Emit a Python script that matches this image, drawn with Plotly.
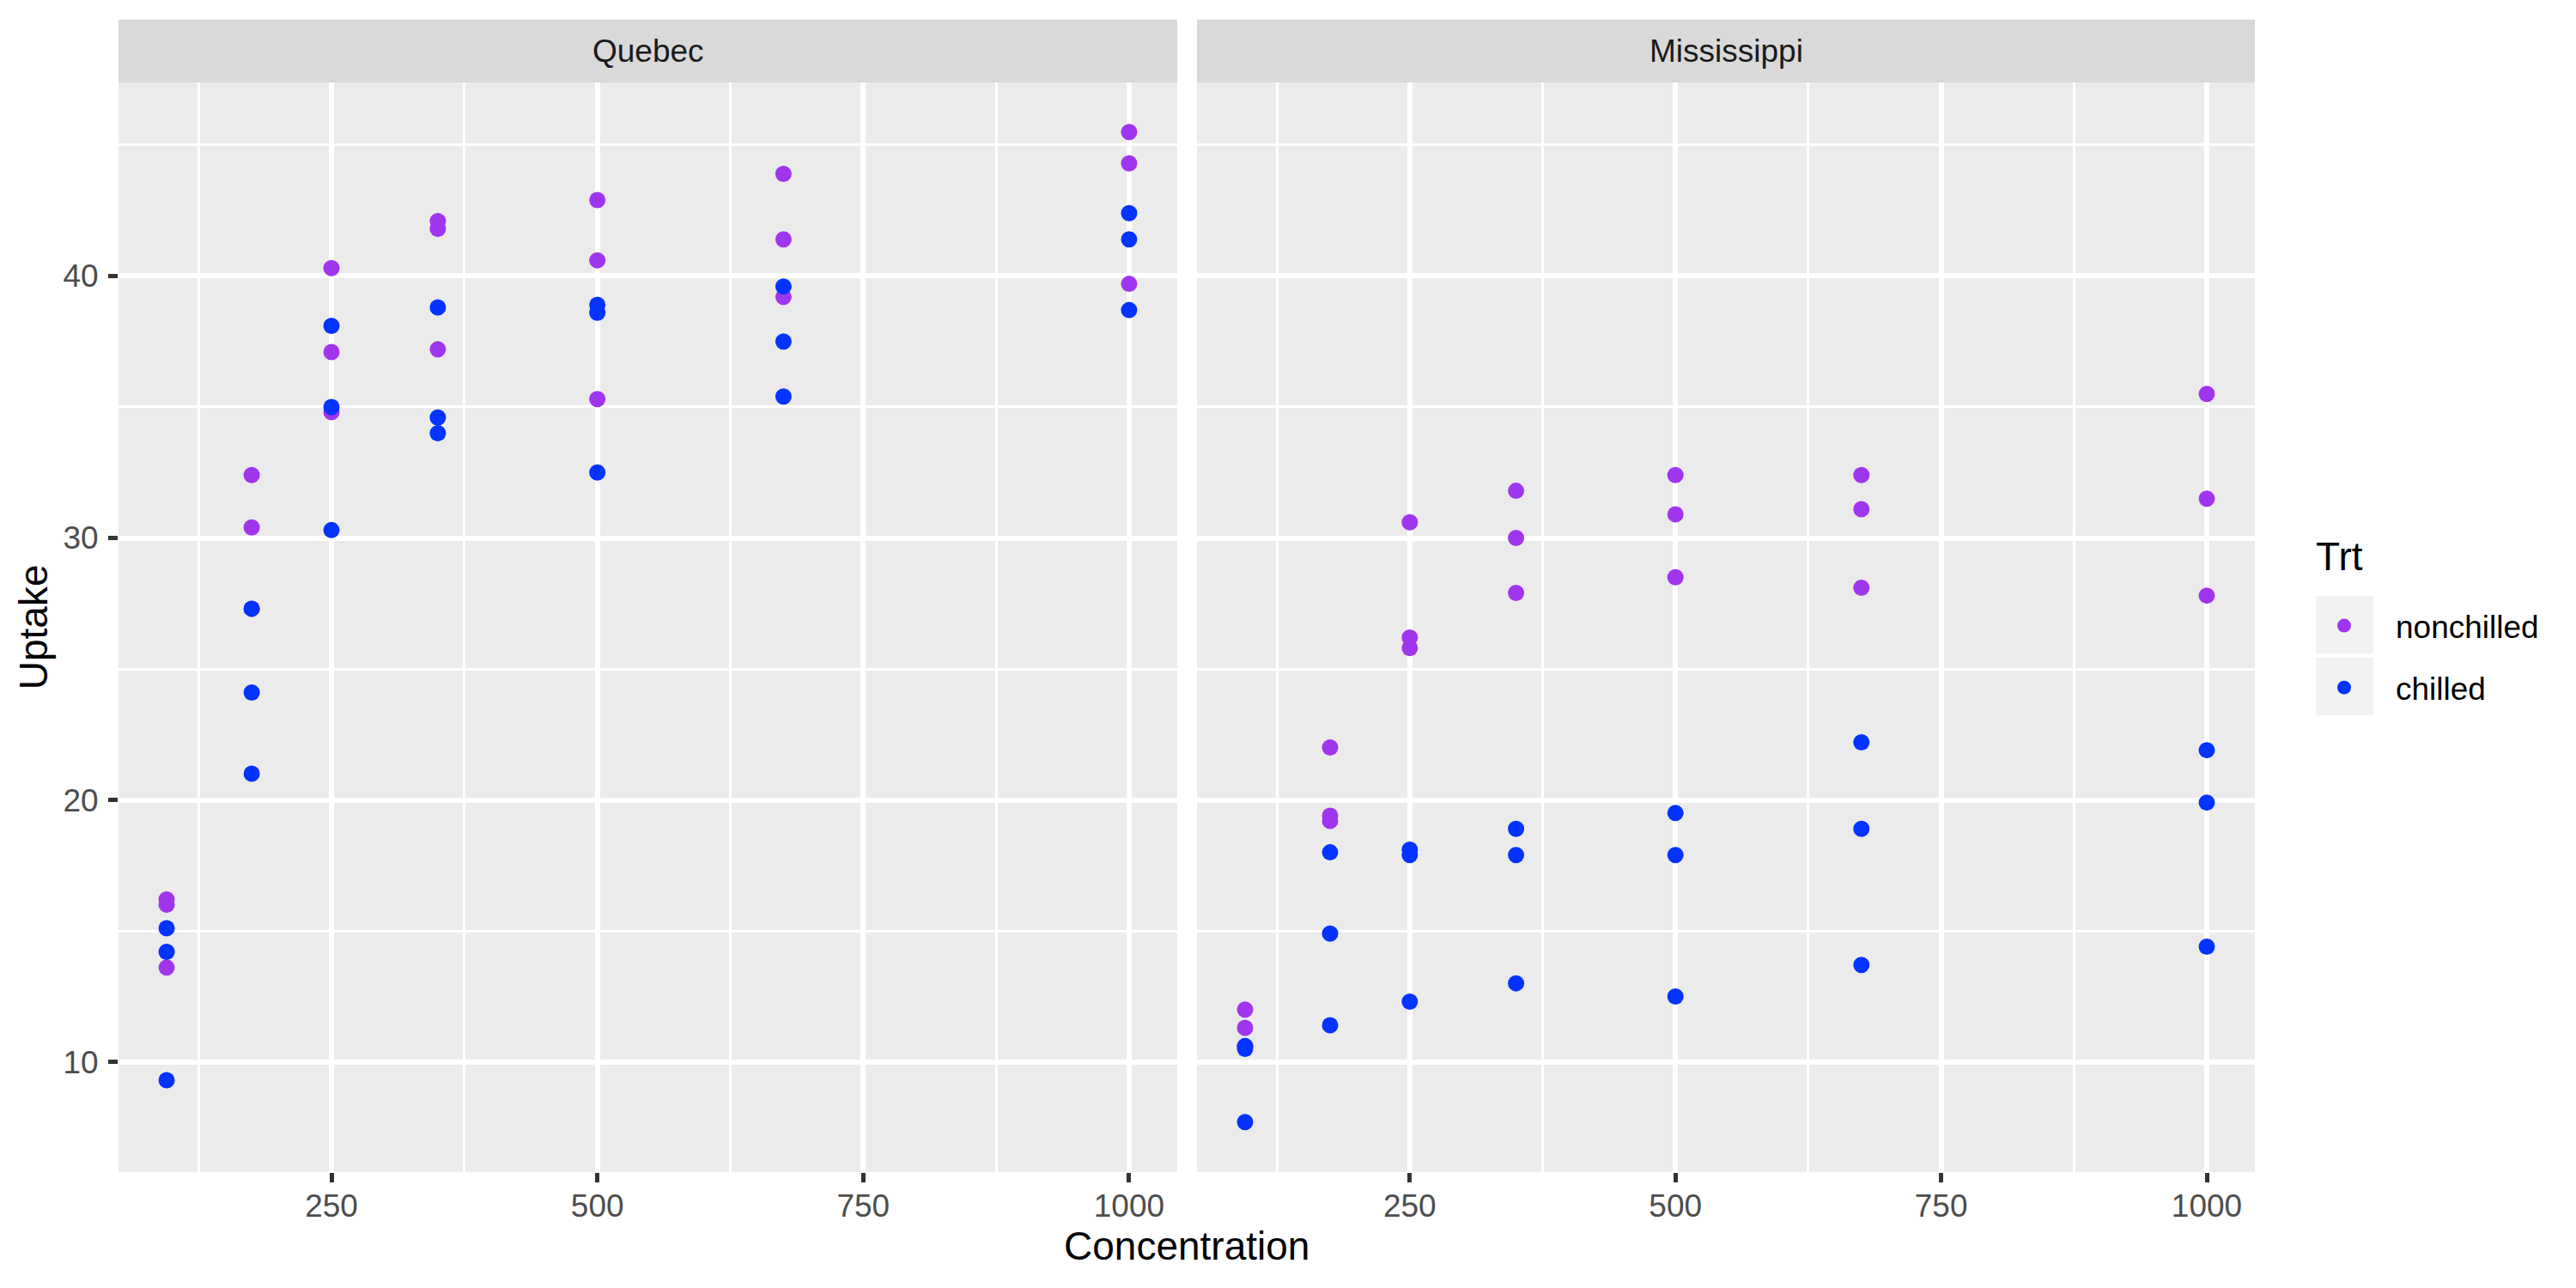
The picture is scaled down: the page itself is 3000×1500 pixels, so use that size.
import plotly.graph_objects as go

# CO2 uptake data (7 concentrations per plant)
conc = [95, 175, 250, 350, 500, 675, 1000]

quebec_nonchilled = [
    [16.0, 30.4, 34.8, 37.2, 35.3, 39.2, 39.7],
    [13.6, 27.3, 37.1, 41.8, 40.6, 41.4, 44.3],
    [16.2, 32.4, 40.3, 42.1, 42.9, 43.9, 45.5],
]
quebec_chilled = [
    [14.2, 24.1, 30.3, 34.6, 32.5, 35.4, 38.7],
    [15.1, 21.0, 38.1, 34.0, 38.9, 39.6, 41.4],
    [9.3, 27.3, 35.0, 38.8, 38.6, 37.5, 42.4],
]
miss_nonchilled = [
    [11.3, 19.4, 25.8, 27.9, 28.5, 28.1, 27.8],
    [12.0, 22.0, 30.6, 31.8, 32.4, 31.1, 31.5],
    [10.6, 19.2, 26.2, 30.0, 30.9, 32.4, 35.5],
]
miss_chilled = [
    [7.7, 11.4, 12.3, 13.0, 12.5, 13.7, 14.4],
    [10.6, 18.0, 17.9, 17.9, 17.9, 18.9, 19.9],
    [10.5, 14.9, 18.1, 18.9, 19.5, 22.2, 21.9],
]

panels = ['Quebec', 'Mississippi']
treatments = ['nonchilled', 'chilled']
colors = {'nonchilled': '#A035EE', 'chilled': '#0433FF'}

W, H = 3000, 1500
OFF = 8  # page body margin the figure sits in
FONT = 'Liberation Sans, Arial, sans-serif'


def fx(px):
    return (px - OFF) / W


def fy(py):
    return 1 - (py - OFF) / H


# panel geometry in screen pixels (ggplot facet layout)
panel_x = [(138, 1371), (1394, 2626)]
panel_top, panel_bot = 96, 1364.5
strip_top = 22.7

fig = go.Figure()

data = {
    ('Quebec', 'nonchilled'): quebec_nonchilled,
    ('Quebec', 'chilled'): quebec_chilled,
    ('Mississippi', 'nonchilled'): miss_nonchilled,
    ('Mississippi', 'chilled'): miss_chilled,
}

for i, panel in enumerate(panels):
    xa = 'x' if i == 0 else 'x2'
    for trt in treatments:
        xs, ys = [], []
        for plant in data[(panel, trt)]:
            xs += conc
            ys += plant
        fig.add_trace(go.Scatter(
            x=xs, y=ys, mode='markers', xaxis=xa, yaxis='y',
            name=trt, legendgroup=trt, showlegend=(i == 0),
            marker=dict(color=colors[trt], size=19, line=dict(width=0)),
        ))

xrange = [95 - 0.05 * 905, 1000 + 0.05 * 905]
yrange = [7.7 - 0.05 * 37.8, 45.5 + 0.05 * 37.8]

axis_common = dict(
    showgrid=True, gridcolor='white', gridwidth=5.5, zeroline=False,
    showline=False, ticks='outside', ticklen=11, tickwidth=5,
    tickcolor='#333333', tickfont=dict(family=FONT, size=37, color='#4D4D4D'),
)
xminor = dict(tick0=125, dtick=250, showgrid=True, gridcolor='white', gridwidth=2.8)

ydom = [fy(panel_bot), fy(panel_top)]

fig.update_layout(
    width=W, height=H,
    margin=dict(l=0, r=0, t=0, b=0),
    paper_bgcolor='white', plot_bgcolor='#EBEBEB',
    font=dict(family=FONT),
    xaxis=dict(domain=[fx(panel_x[0][0]), fx(panel_x[0][1])], range=xrange,
               tickvals=[250, 500, 750, 1000], minor=xminor, anchor='y',
               ticklabelstandoff=-4, **axis_common),
    xaxis2=dict(domain=[fx(panel_x[1][0]), fx(panel_x[1][1])], range=xrange,
                tickvals=[250, 500, 750, 1000], minor=xminor, anchor='y',
                ticklabelstandoff=-4, **axis_common),
    yaxis=dict(domain=ydom, range=yrange, tickvals=[10, 20, 30, 40],
               minor=dict(tick0=5, dtick=10, showgrid=True, gridcolor='white', gridwidth=2.8),
               anchor='x', ticklabelstandoff=4, **axis_common),
    showlegend=True,
    legend=dict(
        x=fx(2670), y=fy(698), xanchor='left', yanchor='top',
        font=dict(family=FONT, size=37, color='black'),
        itemwidth=110, tracegroupgap=21, bgcolor='rgba(0,0,0,0)',
    ),
)

shapes = []
for (x0, x1) in panel_x:
    # panel background for each facet
    shapes.append(dict(type='rect', xref='paper', yref='paper', layer='below',
                       x0=fx(x0), x1=fx(x1), y0=ydom[0], y1=ydom[1],
                       fillcolor='#EBEBEB', line=dict(width=0)))
    # strip
    shapes.append(dict(type='rect', xref='paper', yref='paper',
                       x0=fx(x0), x1=fx(x1), y0=fy(panel_top), y1=fy(strip_top),
                       fillcolor='#D9D9D9', line=dict(width=0)))

# legend key backgrounds
for k in range(2):
    top = 694 + k * 72
    shapes.append(dict(type='rect', xref='paper', yref='paper', layer='below',
                       x0=fx(2697), x1=fx(2764), y0=fy(top + 67), y1=fy(top),
                       fillcolor='#F2F2F2', line=dict(width=0)))
fig.update_layout(shapes=shapes)

annotations = []
for (x0, x1), name in zip(panel_x, panels):
    annotations.append(dict(text=name, xref='paper', yref='paper', showarrow=False,
                            x=fx((x0 + x1) / 2), y=fy((strip_top + panel_top) / 2),
                            xanchor='center', yanchor='middle',
                            font=dict(family=FONT, size=37, color='#1A1A1A')))
annotations.append(dict(text='Concentration', xref='paper', yref='paper', showarrow=False,
                        x=fx((panel_x[0][0] + panel_x[1][1]) / 2), y=fy(1451),
                        xanchor='center', yanchor='middle',
                        font=dict(family=FONT, size=46, color='black')))
annotations.append(dict(text='Uptake', xref='paper', yref='paper', showarrow=False,
                        x=fx(39), y=fy((panel_top + panel_bot) / 2), textangle=-90,
                        xanchor='center', yanchor='middle',
                        font=dict(family=FONT, size=46, color='black')))
# legend title
annotations.append(dict(text='Trt', xref='paper', yref='paper', showarrow=False,
                        x=fx(2695), y=fy(648), xanchor='left', yanchor='middle',
                        font=dict(family=FONT, size=46, color='black')))
fig.update_layout(annotations=annotations)

fig.write_html('out.html')
